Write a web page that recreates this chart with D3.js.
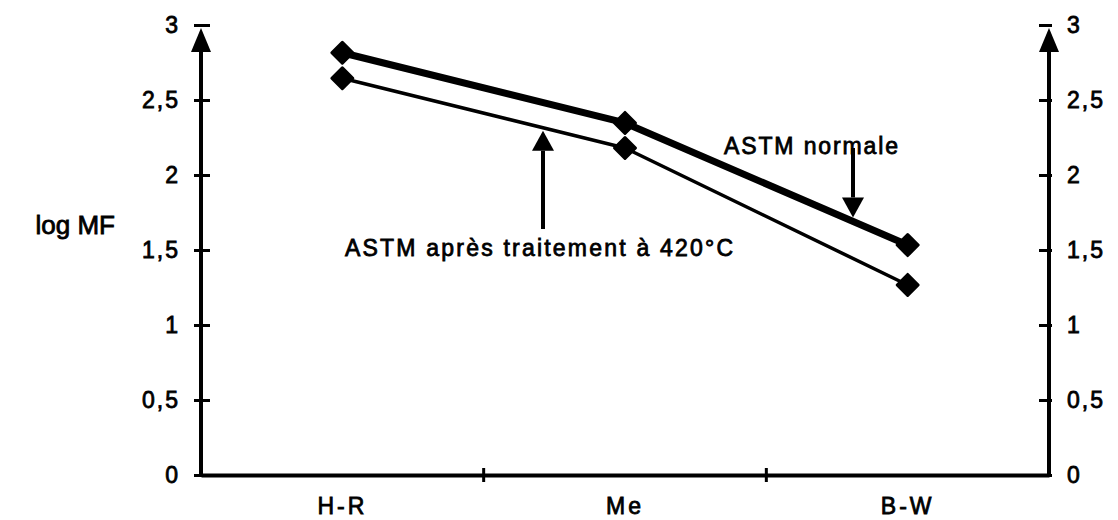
<!DOCTYPE html>
<html>
<head>
<meta charset="utf-8">
<script src="https://cdn.jsdelivr.net/npm/d3@7"></script>
<style>
  html, body { margin: 0; padding: 0; background: #fff; }
  svg text { font-family: "Liberation Sans", Arial, Helvetica, sans-serif; fill: #000; }
</style>
</head>
<body>
<div id="chart"></div>
<script>
// données
const categories = ["H-R", "Me", "B-W"];
const astmNormale = [2.815, 2.347, 1.533];
const astmTraite = [2.645, 2.18, 1.267];
const yTicks = [0, 0.5, 1, 1.5, 2, 2.5, 3];
const yLabel = "log MF";
const labelNormale = "ASTM normale";
const labelTraite = "ASTM après traitement à 420°C";

const width = 1118, height = 520;
const plotLeft = 201, plotRight = 1049, plotTop = 25, plotBottom = 475;

const svg = d3.select("#chart").append("svg")
  .attr("width", width)
  .attr("height", height);

// échelles
const x = d3.scaleBand().domain(categories).range([plotLeft, plotRight]).padding(0);
const y = d3.scaleLinear().domain([0, 3]).range([plotBottom, plotTop]);
const cx = d => x(d) + x.bandwidth() / 2;
const fmt = d => String(d).replace(".", ",");

// texte un peu épaissi, comme l'original scanné
const bold = sel => sel.attr("stroke", "#000").attr("stroke-width", 0.8);

// axe gauche
const gLeft = svg.append("g")
  .attr("transform", `translate(${plotLeft},0)`)
  .call(d3.axisLeft(y).tickValues(yTicks).tickFormat(fmt).tickSize(0).tickPadding(21));
gLeft.select(".domain").remove();
gLeft.selectAll(".tick line").attr("x1", -7).attr("x2", 9).attr("stroke-width", 3);
gLeft.selectAll(".tick text").style("font-size", "23px").style("letter-spacing", "2px").call(bold);

// axe droit
const gRight = svg.append("g")
  .attr("transform", `translate(${plotRight},0)`)
  .call(d3.axisRight(y).tickValues(yTicks).tickFormat(fmt).tickSize(0).tickPadding(18));
gRight.select(".domain").remove();
gRight.selectAll(".tick line").attr("x1", -10).attr("x2", 3).attr("stroke-width", 3);
gRight.selectAll(".tick text").style("font-size", "23px").style("letter-spacing", "2px").call(bold);

// lignes verticales des axes + flèches
[plotLeft, plotRight].forEach(ax => {
  svg.append("line")
    .attr("x1", ax).attr("x2", ax)
    .attr("y1", plotBottom).attr("y2", y(3) + 10)
    .attr("stroke", "#000").attr("stroke-width", 4);
  svg.append("path")
    .attr("d", `M${ax},${y(3) + 3} L${ax - 10},${y(3) + 27} L${ax + 10},${y(3) + 27} Z`)
    .attr("fill", "#000");
});

// axe horizontal
const gBottom = svg.append("g")
  .attr("transform", `translate(0,${plotBottom})`)
  .call(d3.axisBottom(x).tickSize(0).tickPadding(23));
gBottom.select(".domain").attr("stroke-width", 4);
gBottom.selectAll(".tick text").style("font-size", "23px").style("letter-spacing", "3px").call(bold);
// graduations aux limites des catégories
svg.append("g").selectAll("line")
  .data(categories.slice(1))
  .join("line")
  .attr("x1", d => x(d)).attr("x2", d => x(d))
  .attr("y1", plotBottom - 7).attr("y2", plotBottom + 7)
  .attr("stroke", "#000").attr("stroke-width", 3);

// titre de l'axe
svg.append("text")
  .attr("x", 115).attr("y", 234)
  .attr("text-anchor", "end")
  .style("font-size", "26px")
  .call(bold)
  .text(yLabel);

// séries
const line = d3.line().x((d, i) => cx(categories[i])).y(d => y(d));
const series = [
  { values: astmNormale, width: 7 },
  { values: astmTraite, width: 3.5 }
];
series.forEach(s => {
  svg.append("path")
    .datum(s.values)
    .attr("d", line)
    .attr("fill", "none")
    .attr("stroke", "#000")
    .attr("stroke-width", s.width)
    .attr("stroke-linejoin", "round");
  svg.append("g").selectAll("path")
    .data(s.values)
    .join("path")
    .attr("d", d3.symbol(d3.symbolSquare, 220))
    .attr("transform", (d, i) => `translate(${cx(categories[i])},${y(d)}) rotate(45)`)
    .attr("fill", "#000")
    .attr("stroke", "#000")
    .attr("stroke-width", 3)
    .attr("stroke-linejoin", "round");
});

// position d'une série à l'abscisse px
function lineY(values, px) {
  const xs = categories.map(cx);
  for (let i = 0; i < xs.length - 1; i++) {
    if (px >= xs[i] && px <= xs[i + 1]) {
      const t = (px - xs[i]) / (xs[i + 1] - xs[i]);
      return y(values[i] + t * (values[i + 1] - values[i]));
    }
  }
  return y(values[values.length - 1]);
}

function arrow(xa, yFrom, yTip) {
  const dir = yTip > yFrom ? 1 : -1;
  const headLen = 20;
  svg.append("line")
    .attr("x1", xa).attr("x2", xa)
    .attr("y1", yFrom).attr("y2", yTip - dir * headLen)
    .attr("stroke", "#000").attr("stroke-width", 4);
  svg.append("path")
    .attr("d", `M${xa},${yTip} L${xa - 11},${yTip - dir * headLen} L${xa + 11},${yTip - dir * headLen} Z`)
    .attr("fill", "#000");
}

// annotations
svg.append("text")
  .attr("x", 724).attr("y", 154)
  .attr("textLength", 174).attr("lengthAdjust", "spacing")
  .style("font-size", "23px")
  .call(bold)
  .text(labelNormale);
arrow(853, 148, lineY(astmNormale, 853) - 4);

svg.append("text")
  .attr("x", 345).attr("y", 256)
  .attr("textLength", 388).attr("lengthAdjust", "spacing")
  .style("font-size", "23px")
  .call(bold)
  .text(labelTraite);
arrow(543, 229, lineY(astmTraite, 543) + 3);
</script>
</body>
</html>
